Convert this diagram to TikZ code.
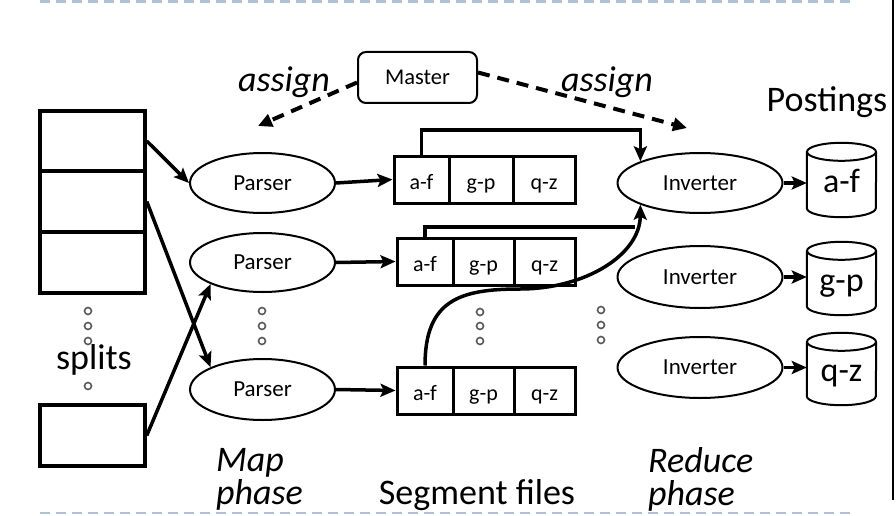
\documentclass[tikz,border=0pt]{standalone}
\usepackage{fontspec}
\setmainfont{Carlito}
\usetikzlibrary{arrows.meta,calc,shapes.geometric}
\begin{document}
\begin{tikzpicture}[x=1pt,y=-1pt,
  splitbox/.style={draw,line width=3.5pt,minimum width=105pt,inner sep=0pt},
  seg/.style={draw,line width=3pt,minimum height=47pt,inner sep=0pt,font=\fontsize{22}{24}\selectfont,text height=24pt,text depth=4pt},
  proc/.style={draw,ellipse,line width=2pt,inner sep=0pt,font=\fontsize{23}{25}\selectfont},
  arr/.style={line width=3.5pt,-{Stealth[length=15pt,width=13pt,inset=3pt]}},
  darr/.style={line width=4pt,dash pattern=on 12pt off 8pt,-{Triangle[length=14pt,width=13pt]}},
  dotc/.style={draw=black!65,line width=1.6pt,fill=white,circle,inner sep=0pt,minimum size=7pt},
  sep/.style={draw={rgb,255:red,175;green,195;blue,215},line width=2.5pt,dash pattern=on 10pt off 6pt},
  big/.style={font=\fontsize{36}{38}\selectfont},
  bigit/.style={font=\fontsize{36}{33}\selectfont\itshape},
  cyltext/.style={font=\fontsize{34}{36}\selectfont,text height=17pt,text depth=6pt,inner sep=0pt},
  cyl/.style={line width=2pt}
]
\useasboundingbox (0,0) rectangle (896,516);
% separators
\draw[sep] (40,1.5) -- (852,1.5);
\draw[sep] (40,513) -- (852,513);
\draw[line width=2pt] (893,0) -- (893,500);

% splits
\node[splitbox,minimum height=60pt] (s1) at (92.5,141) {};
\node[splitbox,minimum height=61pt] (s2) at (92.5,201.5) {};
\node[splitbox,minimum height=61pt] (s3) at (92.5,262.5) {};
\node[splitbox,minimum height=61pt] (s4) at (92.5,435.5) {};
\node[dotc] (d1) at (88,311) {};
\node[dotc] (d2) at (88,326) {};
\node[dotc] (d3) at (88,341) {};
\node[big] (splits) at (94,360) {splits};
\node[dotc] (d4) at (88,386) {};

% parsers
\node[proc,minimum width=145pt,minimum height=60pt] (p1) at (262.5,183) {Parser};
\node[proc,minimum width=145pt,minimum height=59pt] (p2) at (262.5,262.5) {Parser};
\node[proc,minimum width=145pt,minimum height=61pt] (p3) at (262.5,389.5) {Parser};
\node[dotc] (pd1) at (262,311) {};
\node[dotc] (pd2) at (262,326) {};
\node[dotc] (pd3) at (262,341) {};

% segment files
\node[seg,minimum width=55pt] (g1a) at (421.5,179.5) {a-f};
\node[seg,minimum width=64pt] (g1b) at (481,179.5) {g-p};
\node[seg,minimum width=62pt] (g1c) at (544,179.5) {q-z};
\node[seg,minimum width=56pt] (g2a) at (425,261.5) {a-f};
\node[seg,minimum width=61pt] (g2b) at (483.5,261.5) {g-p};
\node[seg,minimum width=61pt] (g2c) at (544.5,261.5) {q-z};
\node[seg,minimum width=56pt] (g3a) at (425,390.5) {a-f};
\node[seg,minimum width=61pt] (g3b) at (483.5,390.5) {g-p};
\node[seg,minimum width=61pt] (g3c) at (544.5,390.5) {q-z};
\node[dotc] (gd1) at (480,312) {};
\node[dotc] (gd2) at (480,326) {};
\node[dotc] (gd3) at (480,341) {};
\node[dotc] (id1) at (601,310) {};
\node[dotc] (id2) at (601,325) {};
\node[dotc] (id3) at (601,340) {};

% inverters
\node[proc,minimum width=165pt,minimum height=60pt] (i1) at (700,183) {Inverter};
\node[proc,minimum width=165pt,minimum height=62pt] (i2) at (700,277) {Inverter};
\node[proc,minimum width=165pt,minimum height=61pt] (i3) at (700,367.5) {Inverter};

% master
\node[draw,line width=2pt,rounded corners=8pt,minimum width=119pt,minimum height=51pt,font=\fontsize{22.5}{24}\selectfont] (m) at (417.5,77.5) {Master};
\node[bigit] (asl) at (284,82) {assign};
\node[bigit] (asr) at (607,82) {assign};
\coordinate (aL) at (258,126);
\coordinate (aR) at (687,128);
\draw[darr] ([yshift=-5pt]m.west) -- (aL);
\draw[darr] ([yshift=5pt]m.east) -- (aR);

% postings cylinders
\node[big] (post) at (827,102) {Postings};
\foreach \n/\t/\cy/\h in {c1/a-f/180/74, c2/g-p/278.5/73, c3/q-z/369/72}{
  \node[minimum width=69pt,minimum height=\h pt,inner sep=0pt] (\n) at (841.5,\cy) {};
  \draw[cyl,fill=white] ($(\n.north west)+(0,9)$) -- ($(\n.south west)+(0,-9)$)
     arc[start angle=180,end angle=360,x radius=34.5pt,y radius=9pt]
     -- ($(\n.north east)+(0,9)$);
  \draw[cyl] ($(\n.north)+(0,9)$) ellipse[x radius=34.5pt,y radius=9pt];
  \node[cyltext,anchor=center] at ($(\n.center)+(0,7)$) {\t};
}

% arrows splits -> parsers
\draw[arr] (s1.east) -- (p1.west);
\draw[arr] (s2.east) -- (p3.north west);
\draw[arr] (s4.east) -- (p2.south west);
% parsers -> segments
\draw[arr] (p1.east) -- (g1a.west);
\draw[arr] (p2.east) -- (g2a.west);
\draw[arr] (p3.east) -- (g3a.west);
% segments -> inverter
\draw[arr] (g1a.north) -- (g1a.north |- 0,130) -| (i1.160);
\coordinate (j2) at (635,227);
\draw[line width=3.5pt] (g2a.north) |- (j2);
\draw[arr] (g3a.north) .. controls (425,300) and (460,289) .. (520,289)
   .. controls (585,289) and (640,255) .. (i1.200);
% inverters -> postings
\draw[arr] (i1.east) -- (i1.east -| c1.west);
\draw[arr] (i2.east) -- (i2.east -| c2.west);
\draw[arr] (i3.east) -- (i3.east -| c3.west);

% phase labels
\node[bigit,anchor=west,align=left,inner sep=0pt] (map) at (216,479) {Map\\phase};
\node[big] (segf) at (477,495) {Segment files};
\node[bigit,anchor=west,align=left,inner sep=0pt] (red) at (648,479) {Reduce\\phase};
\end{tikzpicture}
\end{document}
